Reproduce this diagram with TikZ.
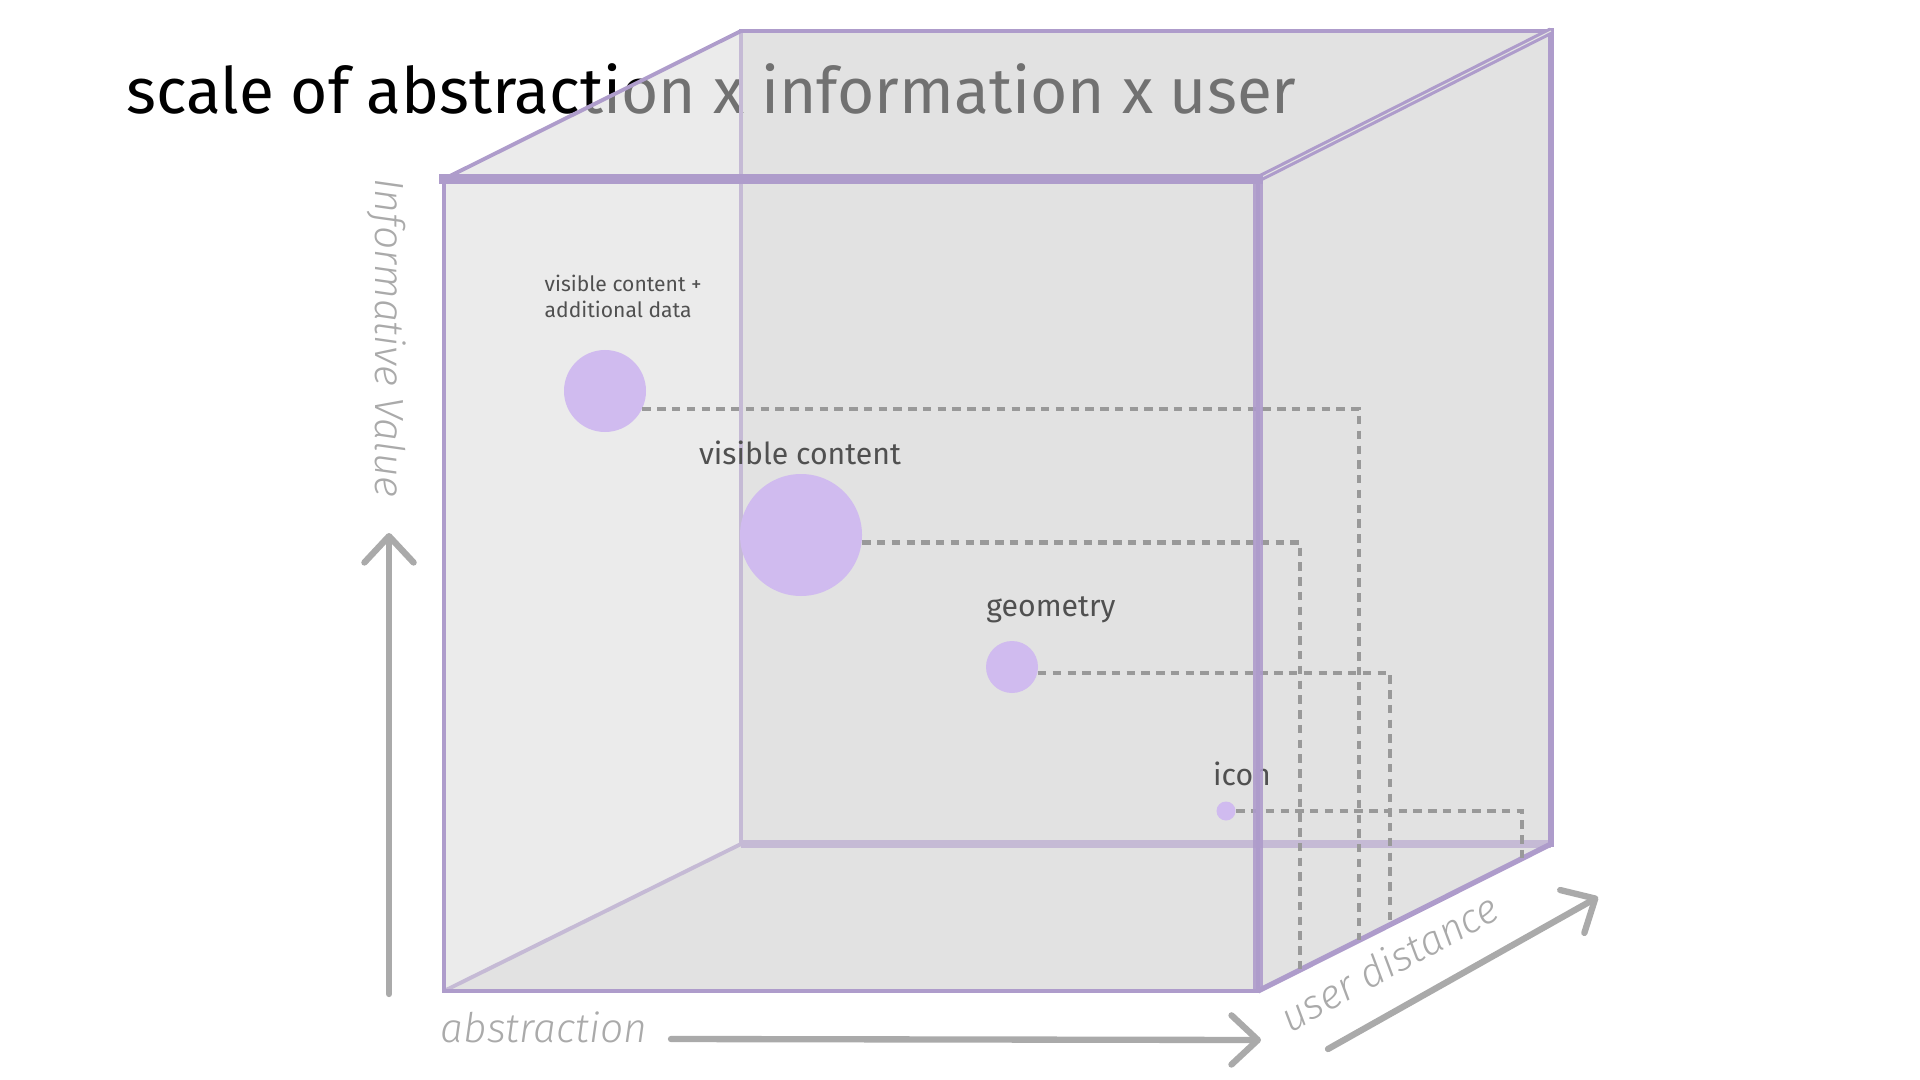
\documentclass[tikz,border=0pt]{standalone}
\usepackage{fontspec}
\setmainfont{Fira Sans}
\newfontfamily\axisfont{Fira Sans Light Italic}
\usetikzlibrary{arrows.meta, calc}
\definecolor{cubeEdge}{HTML}{AE9CCB}
\definecolor{cubeEdgeLight}{HTML}{C5BAD5}
\definecolor{faceLight}{HTML}{EBEBEB}
\definecolor{faceDark}{HTML}{E2E2E2}
\definecolor{dotLilac}{HTML}{D0BBEF}
\definecolor{guideGray}{HTML}{999999}
\definecolor{axisGray}{HTML}{AAAAAA}
\definecolor{labelGray}{HTML}{505050}
\definecolor{titleGray}{HTML}{717171}

\begin{document}
\begin{tikzpicture}[
  dot/.style={circle, fill=dotLilac, inner sep=0pt},
  lbl/.style={text=labelGray, inner sep=0pt, font=\fontsize{8.6}{10}\selectfont},
  guide/.style={draw=guideGray, line width=1.2pt, dash pattern=on 2.4pt off 1.8pt},
  axis/.style={draw=axisGray, line width=1.8pt, line cap=round,
               -{Straight Barb[length=7.5pt,width=14pt,round]}},
  axislbl/.style={text=axisGray, inner sep=0pt, font=\axisfont\fontsize{11.6}{13}\selectfont},
  rim/.style={draw=cubeEdge},
  rimlight/.style={draw=cubeEdgeLight},
  ttl/.style={anchor=base west, inner sep=0pt, font=\fontsize{18.2}{21}\selectfont}]

  \useasboundingbox (0,0) rectangle (19.2,-10.8);

  % cube corners
  \coordinate (ftl) at (4.44,-1.79);  \coordinate (ftr) at (12.58,-1.79);
  \coordinate (fbr) at (12.58,-9.91); \coordinate (fbl) at (4.44,-9.91);
  \coordinate (btl) at (7.41,-0.31);  \coordinate (btr) at (15.51,-0.31);
  \coordinate (bbr) at (15.51,-8.44); \coordinate (bbl) at (7.41,-8.44);

  \node[ttl] (title) at (1.26,-1.14) {scale of abstraction x information x user};

  \fill[faceLight] (fbl) -- (ftl) -- (btl) -- (btr) -- (bbr) -- (fbr) -- cycle;
  \fill[faceDark] (btl) rectangle (bbr);
  \fill[faceDark] (fbl) -- (bbl) -- (bbr) -- (fbr) -- cycle;
  \begin{scope}
    \clip (fbl) -- (ftl) -- (btl) -- (btr) -- (bbr) -- (fbr) -- cycle;
    \node[ttl, text=titleGray] (title-in) at (1.26,-1.14) {scale of abstraction x information x user};
  \end{scope}

  % back edges
  \draw[rimlight, line width=1.1pt] (btl) -- (bbl);
  \draw[rimlight, line width=2.4pt] (bbl) -- (bbr);
  \draw[rimlight, line width=1.1pt] (fbl) -- (bbl);
  \draw[rim, line width=1.4pt, line cap=rect] (btl) -- (btr);
  \draw[rim, line width=1.7pt, line cap=rect] (btr) -- (bbr);
  \draw[rim, line width=1.1pt] (ftl) -- (btl);
  \draw[rim, line width=0.9pt, double=faceDark, double distance=0.3pt] (ftr) -- (btr);
  \draw[rim, line width=1.5pt] (fbr) -- (bbr);

  \node[dot, minimum size=0.82cm] (d1) at (6.05,-3.91) {};
  \node[dot, minimum size=1.22cm] (d2) at (8.01,-5.35) {};
  \node[dot, minimum size=0.52cm] (d3) at (10.12,-6.67) {};
  \node[dot, minimum size=0.19cm] (d4) at (12.26,-8.11) {};

  \coordinate (e1) at ($(fbr)!0.345!(bbr)$);
  \coordinate (e2) at ($(fbr)!0.143!(bbr)$);
  \coordinate (e3) at ($(fbr)!0.450!(bbr)$);
  \coordinate (e4) at ($(fbr)!0.901!(bbr)$);
  \draw[guide] (d1.-26) -| (e1);
  \draw[guide] (d2.-7) -| (e2);
  \draw[guide] (d3.-13) -| (e3);
  \draw[guide] (d4.east) -| (e4);

  \node[lbl, font=\fontsize{6}{7.4}\selectfont, align=left, anchor=west] (l1) at (5.44,-2.96)
    {visible content +\\additional data};
  \node[lbl] (l2) at (8.0,-4.53) {visible content};
  \node[lbl] (l3) at (10.51,-6.10) {geometry};
  \node[lbl] (l4) at (12.42,-7.74) {icon};

  % front edges
  \draw[rim, line width=1.3pt] (fbl) rectangle (ftr);
  \draw[rim, line width=2.6pt, line cap=rect] (ftl) -- (ftr);
  \draw[rim, line width=2.6pt, draw opacity=0.9] (ftr) -- (fbr);

  % axes
  \coordinate (v0) at (3.89,-9.94);  \coordinate (v1) at (3.89,-5.33);
  \coordinate (h0) at (6.71,-10.39); \coordinate (h1) at (12.61,-10.40);
  \coordinate (u0) at (13.28,-10.49); \coordinate (u1) at (15.98,-8.97);
  \draw[axis] (v0) -- (v1);
  \draw[axis] (h0) -- (h1);
  \draw[axis] (u0) -- (u1);
  \node[axislbl, rotate=-90] (info) at (3.87,-3.38) {Informative Value};
  \node[axislbl] (abstr) at (5.44,-10.27) {abstraction};
  \node[axislbl, rotate=28.7] (udist) at (13.89,-9.62) {user distance};

\end{tikzpicture}
\end{document}
